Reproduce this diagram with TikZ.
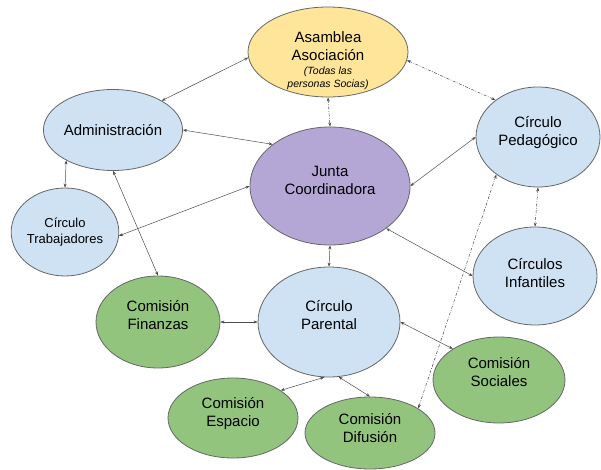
\documentclass[tikz,border=0pt]{standalone}
\usepackage{fontspec}
\setmainfont{Liberation Sans}
\usepackage{tikz}
\usetikzlibrary{arrows.meta,shapes.geometric}
\definecolor{asamcol}{HTML}{FFE599}
\definecolor{circcol}{HTML}{CFE2F3}
\definecolor{juntacol}{HTML}{B4A7D6}
\definecolor{comcol}{HTML}{93C47D}
\newcommand{\nudge}[2]{\raisebox{#1}[\height][\depth]{\begin{tabular}{@{}c@{}}#2\end{tabular}}}
\tikzset{
  bubble/.style={ellipse, draw=black!60, line width=0.8pt, inner sep=0pt, align=center,
    text=black, font=\fontsize{15}{17.5}\selectfont},
  circ/.style={bubble, fill=circcol},
  comi/.style={bubble, fill=comcol},
  link/.style={draw=black!70, line width=0.5pt,
    {Stealth[length=4pt,width=3pt]}-{Stealth[length=4pt,width=3pt]}},
  dlink/.style={link, dash pattern=on 3pt off 1.5pt on 0.8pt off 1.5pt}
}

\begin{document}
\begin{tikzpicture}[x=1pt,y=-1pt]
  \useasboundingbox (0,0) rectangle (601,470);
  % nodes
  \node[bubble, fill=asamcol, minimum width=160pt, minimum height=90pt] (asamblea) at (328,52)
    {\nudge{-9pt}{Asamblea\\Asociación\\[-3pt]{\fontsize{10.5}{13}\selectfont\itshape
     \begin{tabular}[t]{@{}c@{}}(Todas las\\personas Socias)\end{tabular}}}};
  \node[circ, minimum width=130pt, minimum height=81pt] (admin) at (113,130) {Administración};
  \node[circ, minimum width=106pt, minimum height=88pt, font=\fontsize{13}{15.5}\selectfont] (trab) at (65,232) {Círculo\\Trabajadores};
  \node[bubble, fill=juntacol, minimum width=160pt, minimum height=118pt] (junta) at (330,186) {\nudge{4pt}{Junta\\Coordinadora}};
  \node[circ, minimum width=124pt, minimum height=100pt] (pedag) at (538,137) {\nudge{4pt}{Círculo\\Pedagógico}};
  \node[circ, minimum width=124pt, minimum height=98pt] (infant) at (535,276) {\nudge{1pt}{Círculos\\Infantiles}};
  \node[circ, minimum width=142pt, minimum height=110pt] (parental) at (329,322) {\nudge{5pt}{Círculo\\Parental}};
  \node[comi, minimum width=124pt, minimum height=92pt] (finanzas) at (158,322) {\nudge{5pt}{Comisión\\Finanzas}};
  \node[comi, minimum width=130pt, minimum height=80pt] (espacio) at (233,418) {\nudge{4pt}{Comisión\\Espacio}};
  \node[comi, minimum width=130pt, minimum height=72pt] (difusion) at (370,433) {\nudge{3pt}{Comisión\\Difusión}};
  \node[comi, minimum width=132pt, minimum height=86pt] (sociales) at (499,380) {\nudge{6pt}{Comisión\\Sociales}};
  % connectors
  \draw[link] (asamblea.184) -- (admin.31);
  \draw[dlink] (asamblea.south) -- (junta.north);
  \draw[dlink] (asamblea.-6) -- (pedag.139);
  \draw[link] (admin.east) -- (junta.144);
  \draw[link] (admin.213) -- (trab.north);
  \draw[link] (admin.south) -- (finanzas.north);
  \draw[link] (trab.-4) -- (junta.west);
  \draw[link] (junta.east) -- (pedag.west);
  \draw[link] (junta.-37) -- (infant.west);
  \draw[link] (junta.south) -- (parental.north);
  \draw[dlink] (pedag.south) -- (infant.north);
  \draw[dlink] (pedag.222) -- (difusion.27);
  \draw[link] (parental.west) -- (finanzas.east);
  \draw[link] (parental.east) -- (sociales.146);
  \draw[link] (parental.265) -- (espacio.30);
  \draw[link] (parental.280) -- (difusion.north);
\end{tikzpicture}
\end{document}
